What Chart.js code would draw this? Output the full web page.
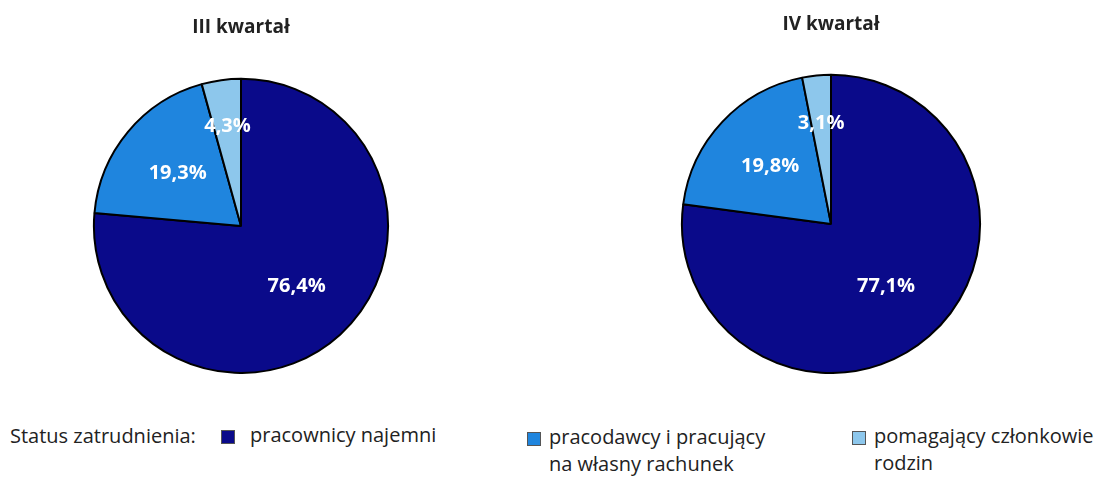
<!DOCTYPE html>
<html>
<head>
<meta charset="utf-8">
<script src="https://cdn.jsdelivr.net/npm/chart.js@4/dist/chart.umd.min.js"></script>
<style>
  body { margin: 0; background: #fff; font-family: "Open Sans", sans-serif; color: #222; }
  #page { position: relative; width: 1112px; height: 478px; overflow: hidden; }
  .box { position: absolute; top: 0; width: 482px; height: 374px; }
  .legend { position: absolute; font-size: 20px; line-height: 27px; color: #222; white-space: nowrap; }
  .sw { position: absolute; width: 12px; height: 12px; border: 1px solid #555; }
</style>
</head>
<body>
<div id="page">
  <div class="box" style="left:0px"><canvas id="pie-q3"></canvas></div>
  <div class="box" style="left:590px"><canvas id="pie-q4"></canvas></div>
  <div id="legend"></div>
</div>
<script>
var categories = ["pracownicy najemni", "pracodawcy i pracujący na własny rachunek", "pomagający członkowie rodzin"];
var legendLines = [["pracownicy najemni"], ["pracodawcy i pracujący", "na własny rachunek"], ["pomagający członkowie", "rodzin"]];
var q3Values = [76.4, 19.3, 4.3];
var q4Values = [77.1, 19.8, 3.1];
var colors = ["#0a0a8a", "#1f85de", "#8dc7ec"];

// white percentage labels inside the slices
var sliceLabels = {
    id: 'sliceLabels',
    afterDatasetsDraw: function (chart) {
        var ctx = chart.ctx;
        var meta = chart.getDatasetMeta(0);
        var data = chart.data.datasets[0].data;
        ctx.save();
        ctx.fillStyle = "#ffffff";
        ctx.font = "bold 20px 'Open Sans', sans-serif";
        ctx.textAlign = "center";
        ctx.textBaseline = "middle";
        meta.data.forEach(function (arc, i) {
            var p = arc.getProps(['x', 'y', 'startAngle', 'endAngle', 'outerRadius'], true);
            var mid = (p.startAngle + p.endAngle) / 2;
            var f = data[i] < 10 ? 0.68 : 0.56;
            var x = p.x + Math.cos(mid) * p.outerRadius * f;
            var y = p.y + Math.sin(mid) * p.outerRadius * f;
            ctx.fillText(data[i].toFixed(1).replace('.', ',') + '%', x, y);
        });
        ctx.restore();
    }
};

function pieConfig(title, values, padTop, padBottom) {
    return {
        type: 'pie',
        data: {
            labels: categories,
            datasets: [
                {
                    data: values,
                    backgroundColor: colors,
                    borderColor: "#000000",
                    borderWidth: 2
                }
            ]
        },
        options: {
            responsive: true,
            maintainAspectRatio: false,
            animation: false,
            layout: {padding: 0},
            plugins: {
                legend: {display: false},
                tooltip: {enabled: false},
                title: {
                    display: true,
                    text: title,
                    color: "#222222",
                    font: {family: "'Open Sans', sans-serif", size: 19, weight: 'bold', lineHeight: 1.2},
                    padding: {top: padTop, bottom: padBottom}
                }
            }
        },
        plugins: [sliceLabels]
    };
}

new Chart(document.getElementById("pie-q3").getContext("2d"), pieConfig("III kwartał", q3Values, 16, 39));
new Chart(document.getElementById("pie-q4").getContext("2d"), pieConfig("IV kwartał", q4Values, 13, 38));

// legend below the pies
var legend = document.getElementById("legend");
var head = document.createElement("div");
head.className = "legend";
head.style.left = "10px";
head.style.top = "422px";
head.textContent = "Status zatrudnienia:";
legend.appendChild(head);

var itemX = [221, 527, 852];
var itemY = [430, 432, 431];
categories.forEach(function (c, i) {
    var sw = document.createElement("span");
    sw.className = "sw";
    sw.style.left = itemX[i] + "px";
    sw.style.top = itemY[i] + "px";
    sw.style.background = colors[i];
    legend.appendChild(sw);
    var t = document.createElement("div");
    t.className = "legend";
    t.style.left = (itemX[i] + (i === 0 ? 29 : 22)) + "px";
    t.style.top = (itemY[i] - 9) + "px";
    t.innerHTML = legendLines[i].join("<br>");
    legend.appendChild(t);
});
</script>
</body>
</html>
